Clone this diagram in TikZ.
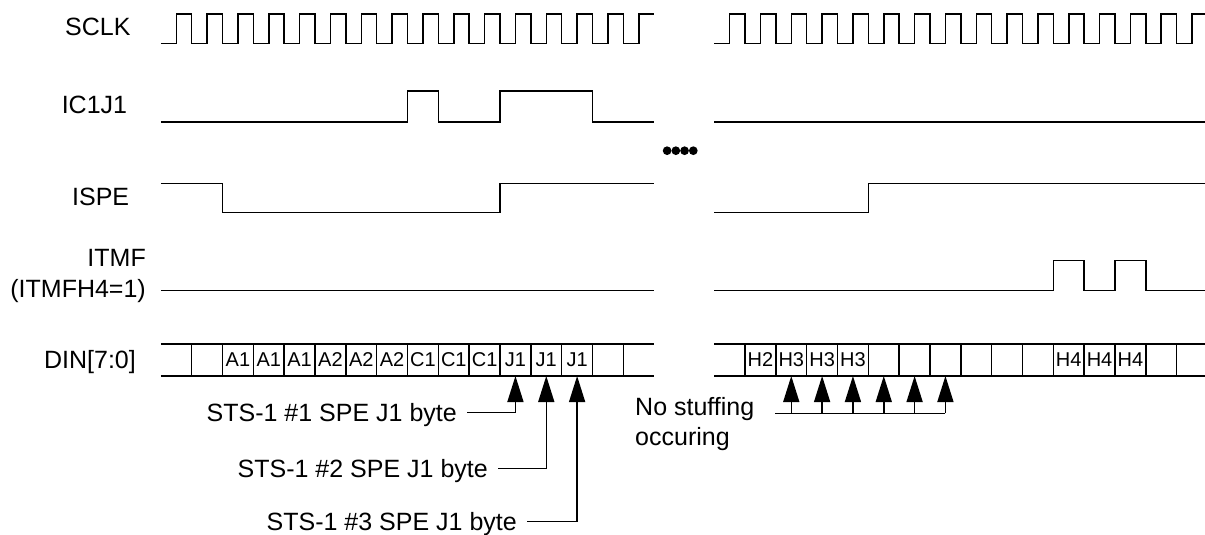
\documentclass[tikz,border=0pt]{standalone}
\usepackage{fontspec}
\setmainfont{Liberation Sans}
\usetikzlibrary{arrows.meta, calc}
\def\cw{30.83}
\def\xL{160.9}
\def\xR{714.2}

\begin{document}
\begin{tikzpicture}[x=1pt, y=-1pt,
  every node/.style={inner sep=0pt, font=\fontsize{25}{30}\selectfont},
  lbl/.style={anchor=base east},
  byte/.style={font=\fontsize{20}{20}\selectfont},
  wave/.style={line width=1.5pt},
  ptr/.style={line width=1.5pt, -{Triangle[length=26pt, width=16pt]}}]
\useasboundingbox (0,0) rectangle (1205,535);

\node[lbl] (sclk) at (130.7,36) {SCLK};
\node[lbl] (ic1j1) at (127.3,113.3) {IC1J1};
\node[lbl] (ispe) at (129.3,205) {ISPE};
\node[lbl] (itmf) at (146,266.7) {ITMF};
\node[lbl] (itmfh) at (146,297.3) {(ITMFH4=1)};
\node[lbl] (din) at (136,368.3) {DIN[7:0]};

\foreach \s in {\xL,\xR} {
  \draw[wave] (\s,43.5) \foreach \k in {0,...,14} {-- ++(\cw/2,0) -- ++(0,-29.5) -- ++(\cw/2,0) -- ++(0,29.5)}
    -- ++(\cw/2,0) -- ++(0,-29.5) -- ++(\cw/2,0);
  \draw[wave] (\s,344) -- ++(16*\cw,0) (\s,376) -- ++(16*\cw,0);
  \foreach \k in {1,...,15} \draw[wave] ({\s+\k*\cw},344) -- ++(0,32);
}

\draw[wave] (\xL,122) -| ({\xL+8*\cw},91) -| ({\xL+9*\cw},122) -| ({\xL+11*\cw},91) -| ({\xL+14*\cw},122) -- ({\xL+16*\cw},122);
\draw[wave] (\xL,183.3) -| ({\xL+2*\cw},212.7) -| ({\xL+11*\cw},183.3) -- ({\xL+16*\cw},183.3);
\draw[wave] (\xL,290.7) -- ({\xL+16*\cw},290.7);

\draw[wave] (\xR,122) -- ({\xR+16*\cw},122);
\draw[wave] (\xR,212.7) -| ({\xR+5*\cw},183.3) -- ({\xR+16*\cw},183.3);
\draw[wave] (\xR,290.7) -| ({\xR+11*\cw},260.7) -| ({\xR+12*\cw},290.7) -| ({\xR+13*\cw},260.7) -| ({\xR+14*\cw},290.7) -- ({\xR+16*\cw},290.7);

\foreach \i in {0,...,3} \fill ({667.1+\i*8.73},150.7) circle (4.35pt);

\foreach \k/\t in {2/A1,3/A1,4/A1,5/A2,6/A2,7/A2,8/C1,9/C1,10/C1,11/J1,12/J1,13/J1}
  \node[byte] (l\k) at ({\xL+(\k+0.5)*\cw},360) {\t};
\foreach \k/\t in {1/H2,2/H3,3/H3,4/H3,11/H4,12/H4,13/H4}
  \node[byte] (r\k) at ({\xR+(\k+0.5)*\cw},360) {\t};

\coordinate (j1) at ({\xL+11.5*\cw},376);
\coordinate (j2) at ({\xL+12.5*\cw},376);
\coordinate (j3) at ({\xL+13.5*\cw},376);
\foreach \k in {2,...,7} \coordinate (c\k) at ({\xR+(\k+0.5)*\cw},376);

\node[lbl] (sts1) at (457,421.7) {STS-1 \#1 SPE J1 byte};
\node[lbl] (sts2) at (488,477.3) {STS-1 \#2 SPE J1 byte};
\node[lbl] (sts3) at (517,530.7) {STS-1 \#3 SPE J1 byte};
\draw[ptr] ([shift={(10,-9)}]sts1.base east) -| (j1);
\draw[ptr] ([shift={(10,-9)}]sts2.base east) -| (j2);
\draw[ptr] ([shift={(10,-9)}]sts3.base east) -| (j3);

\node[anchor=base west, align=left] (nostuff) at (635,445) {No stuffing\\occuring};
\coordinate (ns) at (775,413.3);
\draw[wave] (ns) -- (c7 |- ns);
\foreach \k in {2,...,7} \draw[ptr] (c\k |- ns) -- (c\k);
\end{tikzpicture}
\end{document}
